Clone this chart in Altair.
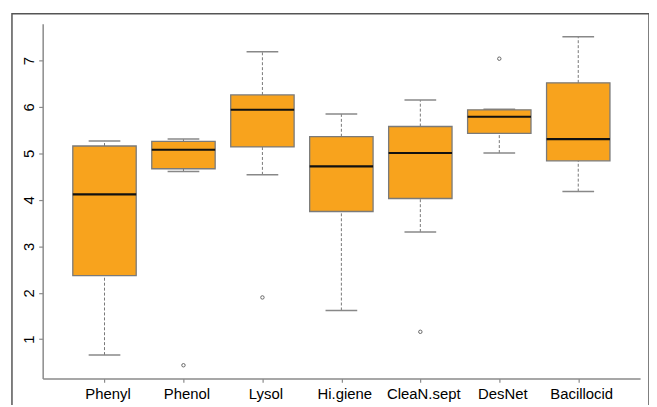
import altair as alt
import pandas as pd

cats = ["Phenyl", "Phenol", "Lysol", "Hi.giene", "CleaN.sept", "DesNet", "Bacillocid"]
lower = [0.66, 4.61, 4.54, 1.62, 3.31, 5.01, 4.18]
q1 = [2.37, 4.67, 5.14, 3.75, 4.03, 5.43, 4.84]
median = [4.12, 5.08, 5.94, 4.72, 5.01, 5.79, 5.31]
q3 = [5.16, 5.26, 6.26, 5.36, 5.58, 5.94, 6.52]
upper = [5.27, 5.31, 7.19, 5.85, 6.15, 5.95, 7.51]
out_cat = ["Phenol", "Lysol", "CleaN.sept", "DesNet"]
out_val = [0.44, 1.90, 1.16, 7.04]
y_ticks = [1, 2, 3, 4, 5, 6, 7]

df = pd.DataFrame({"cat": cats, "lower": lower, "q1": q1, "median": median,
                   "q3": q3, "upper": upper})
dout = pd.DataFrame({"cat": out_cat, "val": out_val})

lo = min(lower + out_val)
hi = max(upper + out_val)
ext = 0.04 * (hi - lo)

FONT = "Liberation Sans"
GRAY = "#8a8a8a"

xenc = alt.X("cat:N", sort=cats,
             scale=alt.Scale(type="point", padding=0.783),
             axis=alt.Axis(title=None, labelAngle=0, labelFontSize=15, labelFont=FONT,
                           labelColor="#000", tickSize=4, tickColor=GRAY, domainColor=GRAY,
                           domainWidth=1.5, tickWidth=1.2, labelPadding=4, labelOffset=3,
                           grid=False))
yscale = alt.Scale(domain=[lo - ext, hi + ext], nice=False, zero=False)
yaxis = alt.Axis(title=None, values=y_ticks, labelAngle=-90, labelAlign="center",
                 labelBaseline="bottom", labelFontSize=15, labelFont=FONT, labelColor="#000",
                 tickSize=4, tickColor=GRAY, domainColor=GRAY, domainWidth=1.5, tickWidth=1.2,
                 labelPadding=2, grid=False)

base = alt.Chart(df)

whisk_lo = base.mark_rule(color="#777", strokeDash=[3, 2], strokeWidth=1, opacity=1).encode(
    x=xenc, y=alt.Y("lower:Q", scale=yscale, axis=yaxis), y2="q1:Q")
whisk_hi = base.mark_rule(color="#777", strokeDash=[3, 2], strokeWidth=1, opacity=1).encode(
    x=xenc, y=alt.Y("q3:Q", scale=yscale, axis=yaxis), y2="upper:Q")
cap_lo = base.mark_tick(color="#888", size=32, thickness=1.5, opacity=1).encode(
    x=xenc, y=alt.Y("lower:Q", scale=yscale, axis=yaxis))
cap_hi = base.mark_tick(color="#888", size=32, thickness=1.5, opacity=1).encode(
    x=xenc, y=alt.Y("upper:Q", scale=yscale, axis=yaxis))
box = base.mark_bar(size=64, color="#F8A31D", stroke="#7a7a7a", strokeWidth=1.3,
                    opacity=1).encode(
    x=xenc, y=alt.Y("q1:Q", scale=yscale, axis=yaxis), y2="q3:Q")
med = base.mark_tick(color="#111", size=64, thickness=2.2, opacity=1).encode(
    x=xenc, y=alt.Y("median:Q", scale=yscale, axis=yaxis))
pts = alt.Chart(dout).mark_point(shape="circle", filled=False, size=12, color="#666",
                                 strokeWidth=1, opacity=1).encode(
    x=xenc, y=alt.Y("val:Q", scale=yscale, axis=yaxis))
frame = alt.Chart(alt.Data(values=[{}])).mark_rect(
    filled=False, stroke="#555", strokeWidth=1.5, clip=False).encode(
    x=alt.value(-31), x2=alt.value(612), y=alt.value(-10), y2=alt.value(420))

chart = alt.layer(whisk_lo, whisk_hi, cap_lo, cap_hi, box, med, pts, frame).properties(
    width=603, height=358,
    padding={"left": 35, "top": 14, "right": 9, "bottom": 25},
    autosize=alt.AutoSizeParams(type="none"),
).configure_view(stroke=None)

chart.save("out.html", embed_options={"renderer": "svg", "actions": False})
